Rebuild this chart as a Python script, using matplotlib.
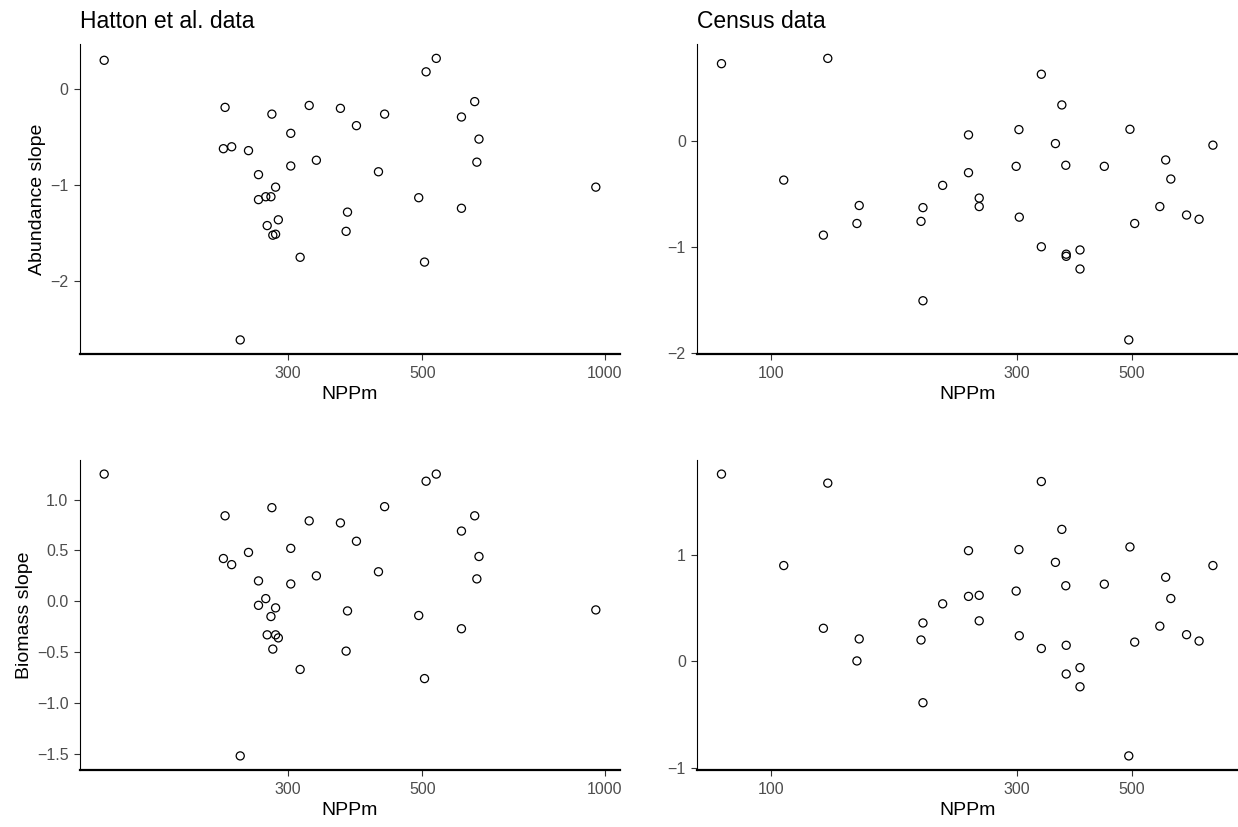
import matplotlib
matplotlib.use('Agg')
import matplotlib.pyplot as plt
from matplotlib.ticker import FixedLocator, FuncFormatter, NullLocator

# ── data ────────────────────────────────────────────────

hatton_npp = [149, 234.5, 236, 242, 250, 258, 268, 268, 275.5, 277, 281, 282,
              283, 286, 286, 289, 303, 303, 314, 325, 334, 366, 374, 376, 389,
              423, 433, 493, 504, 507, 527, 580, 580, 610, 615, 620, 967]
hatton_abundance = [0.30, -0.62, -0.19, -0.60, -2.61, -0.64, -0.89, -1.15, -1.12,
                    -1.42, -1.12, -0.26, -1.52, -1.02, -1.51, -1.36, -0.46, -0.80,
                    -1.75, -0.17, -0.74, -0.20, -1.48, -1.28, -0.38, -0.86, -0.26,
                    -1.13, -1.80, 0.18, 0.32, -0.29, -1.24, -0.13, -0.76, -0.52,
                    -1.02]
hatton_biomass = [1.25, 0.42, 0.84, 0.36, -1.52, 0.48, 0.20, -0.04, 0.026, -0.33,
                  -0.15, 0.92, -0.47, -0.065, -0.33, -0.36, 0.52, 0.17, -0.67,
                  0.79, 0.25, 0.77, -0.49, -0.095, 0.59, 0.29, 0.93, -0.14, -0.76,
                  1.18, 1.25, 0.69, -0.27, 0.84, 0.22, 0.44, -0.085]

census_npp = [80.3, 106, 126.5, 129, 146.9, 148.4, 195.5, 197.2, 197.2, 215.3,
              241.6, 241.6, 253.4, 253.4, 298.8, 302.5, 303, 334.3, 334.3, 356,
              366.3, 372.8, 373.5, 373.5, 397.2, 397.2, 442.7, 493.7, 496.3,
              506.9, 567, 582, 595.5, 638.8, 675.5, 718.5]
census_abundance = [0.73, -0.37, -0.89, 0.78, -0.78, -0.61, -0.76, -0.63, -1.51,
                    -0.42, 0.057, -0.30, -0.54, -0.62, -0.24, 0.107, -0.72, 0.63,
                    -1.00, -0.025, 0.34, -0.23, -1.07, -1.09, -1.03, -1.21, -0.24,
                    -1.88, 0.11, -0.78, -0.62, -0.18, -0.36, -0.70, -0.74, -0.04]
census_biomass = [1.76, 0.90, 0.31, 1.675, 0.003, 0.21, 0.20, 0.36, -0.39, 0.54,
                  1.04, 0.61, 0.62, 0.38, 0.66, 1.05, 0.24, 1.69, 0.12, 0.93, 1.24,
                  0.71, 0.15, -0.12, -0.06, -0.24, 0.725, -0.89, 1.075, 0.18, 0.33,
                  0.79, 0.59, 0.25, 0.19, 0.90]

hatton_xticks = [300, 500, 1000]
census_xticks = [100, 300, 500]
abundance_yticks = [-2, -1, 0]
hatton_bio_yticks = [-1.5, -1.0, -0.5, 0.0, 0.5, 1.0]
census_bio_yticks = [-1, 0, 1]

# ── style ───────────────────────────────────────────────

plt.rcParams['font.family'] = ['Liberation Sans', 'DejaVu Sans']
TICK_COLOR = '#4D4D4D'

W, H = 1238, 827


def px_axes(fig, left, top, right, bottom):
    return fig.add_axes([left / W, 1 - bottom / H, (right - left) / W, (bottom - top) / H])


def minus(s):
    return s.replace('-', '\u2212')


def panel(ax, x, y, xticks, yticks, ylabel=None, title=None, decimals=0):
    ax.scatter(x, y, s=34, facecolors='none', edgecolors='black', linewidths=0.9,
               zorder=3)
    ax.set_xscale('log')
    ax.margins(0.05)

    ax.xaxis.set_major_locator(FixedLocator(xticks))
    ax.xaxis.set_minor_locator(NullLocator())
    ax.xaxis.set_major_formatter(FuncFormatter(lambda v, p: f"{v:g}"))
    ax.yaxis.set_major_locator(FixedLocator(yticks))
    ax.yaxis.set_major_formatter(
        FuncFormatter(lambda v, p: minus(f"{v:.{decimals}f}")))

    for side in ('top', 'right'):
        ax.spines[side].set_visible(False)
    ax.spines['bottom'].set_linewidth(1.6)
    ax.spines['left'].set_linewidth(0.8)

    ax.tick_params(axis='both', length=4, width=0.8, color='#333333',
                   labelcolor=TICK_COLOR, labelsize=11.5, pad=4)
    ax.tick_params(axis='x', pad=5)

    ax.set_xlabel('NPPm', fontsize=14, labelpad=3)
    if ylabel:
        ax.set_ylabel(ylabel, fontsize=14, labelpad=3)
    if title:
        ax.set_title(title, loc='left', fontsize=16.5, pad=11.5)


fig = plt.figure(figsize=(W / 100, H / 100), dpi=100)

ax1 = px_axes(fig, 79.6, 44.3, 620.4, 354)
ax2 = px_axes(fig, 696.9, 44.3, 1237.5, 354)
ax3 = px_axes(fig, 79.6, 460, 620.4, 770)
ax4 = px_axes(fig, 696.9, 460, 1237.5, 770)

panel(ax1, hatton_npp, hatton_abundance, hatton_xticks, abundance_yticks,
      ylabel='Abundance slope', title='Hatton et al. data')
panel(ax2, census_npp, census_abundance, census_xticks, abundance_yticks,
      title='Census data')
panel(ax3, hatton_npp, hatton_biomass, hatton_xticks, hatton_bio_yticks,
      ylabel='Biomass slope', decimals=1)
panel(ax4, census_npp, census_biomass, census_xticks, census_bio_yticks)

fig.savefig('out.png', dpi=100)
plt.close(fig)
